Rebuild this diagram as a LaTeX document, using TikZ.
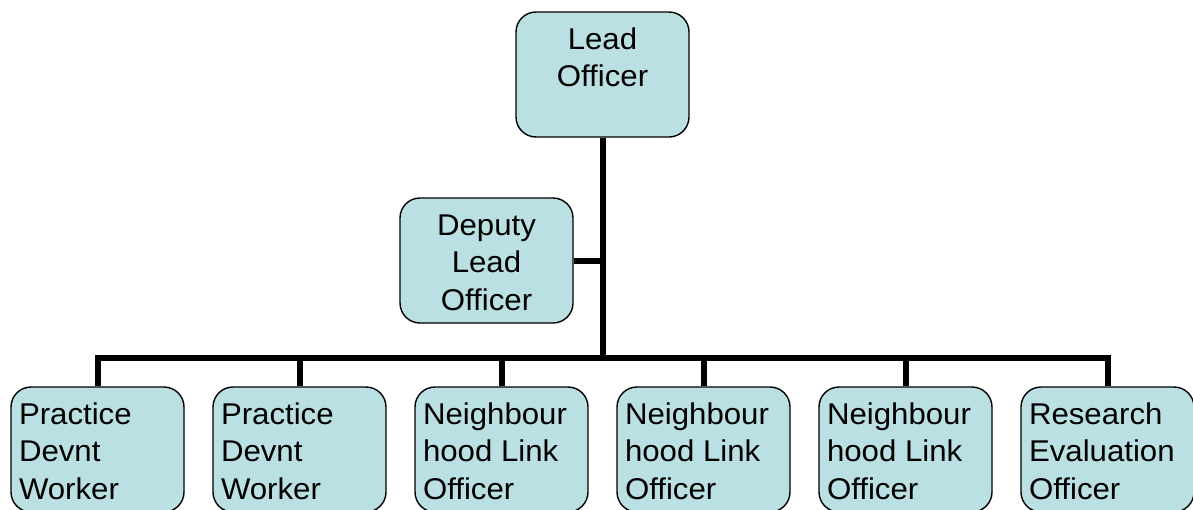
\documentclass[tikz,border=0pt]{standalone}
\usepackage{fontspec}
\setmainfont{Liberation Sans}[FakeStretch=1.04]
\usepackage{xcolor}
\usepackage{tikz}
\definecolor{boxblue}{HTML}{BBE0E3}
\newcommand{\orgtext}[2]{\parbox[c][125pt][t]{157pt}{#1\vspace*{11pt}\strut #2}}

\begin{document}
\begin{tikzpicture}[x=1pt,y=-1pt,
  post/.style={draw=black, line width=1.4pt, fill=boxblue, rounded corners=20pt,
               inner xsep=8pt, inner ysep=0pt,
               font=\fontsize{30}{37.5}\selectfont},
  conn/.style={draw=black, line width=6pt}]
\useasboundingbox (0,0) rectangle (1193,509);
\clip (0,0) rectangle (1193,509);

\node[post] (lead)   at (602.5,74.5)  {\orgtext{\centering}{Lead\\Officer}};
\node[post] (deputy) at (486.5,260.5) {\orgtext{\centering}{Deputy\\Lead\\Officer}};

\node[post] (pdw1) at (97.5,449.5)  {\orgtext{\raggedright}{Practice\\Devnt\\Worker}};
\node[post] (pdw2) at (299.5,449.5) {\orgtext{\raggedright}{Practice\\Devnt\\Worker}};
\node[post] (nlo1) at (501.5,449.5) {\orgtext{\raggedright}{Neighbour\\hood Link\\Officer}};
\node[post] (nlo2) at (703.5,449.5) {\orgtext{\raggedright}{Neighbour\\hood Link\\Officer}};
\node[post] (nlo3) at (905.5,449.5) {\orgtext{\raggedright}{Neighbour\\hood Link\\Officer}};
\node[post] (reo)  at (1107.5,449.5){\orgtext{\raggedright}{Research\\Evaluation\\Officer}};

\coordinate (bus) at (602.5,358);

\path[conn]
  (lead.south)   edge (bus)
  (deputy.east)  edge (deputy.east -| bus);
\draw[conn] (pdw1.north) |- (bus) -| (reo.north);
\foreach \n in {pdw2,nlo1,nlo2,nlo3}
  \draw[conn] (\n.north) -- (\n.north |- bus);
\end{tikzpicture}
\end{document}
